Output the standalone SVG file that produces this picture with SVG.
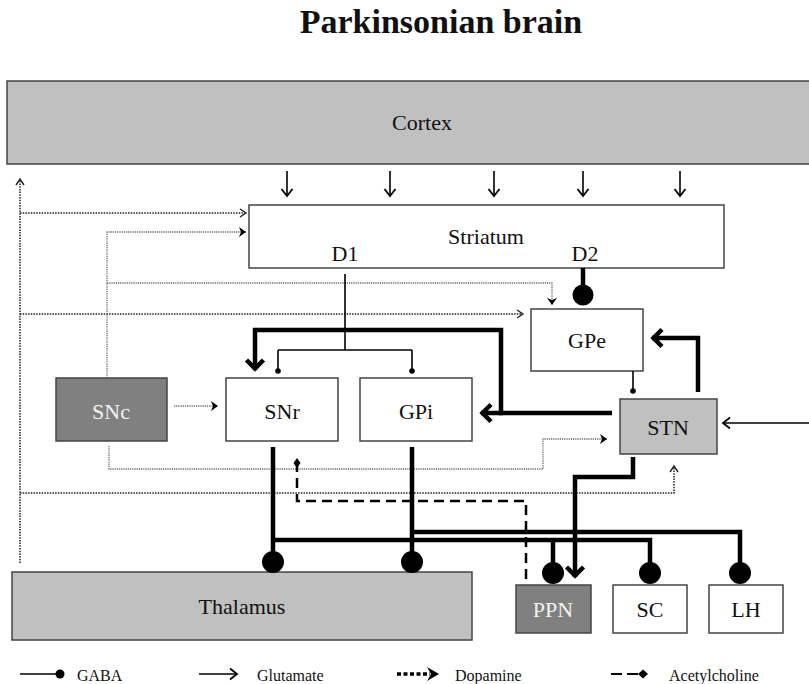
<svg xmlns="http://www.w3.org/2000/svg" width="809" height="684" viewBox="0 0 809 684">
  <style>
    .box { stroke: #444; stroke-width: 1.5; }
    .white { fill: #ffffff; }
    .light { fill: #c0c0c0; }
    .dark { fill: #808080; }
    .lbl { font-family: "Liberation Serif", "Times New Roman", serif; font-size: 22px; fill: #111; text-anchor: middle; }
    .lbl-inv { fill: #f2f2f2; }
    .title { font-family: "Liberation Serif", "Times New Roman", serif; font-size: 34px; font-weight: bold; fill: #111; text-anchor: middle; }
    .leg { font-family: "Liberation Serif", "Times New Roman", serif; font-size: 16px; fill: #111; }
    .thin { fill: none; stroke: #000; stroke-width: 1.6; }
    .thick { fill: none; stroke: #000; stroke-width: 4.5; stroke-linejoin: miter; }
    .thal { fill: none; stroke: #222; stroke-width: 1.5; stroke-dasharray: 1.5 1.2; }
    .da { fill: none; stroke: #666; stroke-width: 1.3; stroke-dasharray: 1.2 1; }
    .ach { fill: none; stroke: #000; stroke-width: 2.5; stroke-dasharray: 10 6; }
    .dot { fill: #000; }
  </style>
  <defs>
    <!-- open chevron, thin glutamate -->
    <marker id="glu" markerUnits="userSpaceOnUse" viewBox="-10 -8 12 16" refX="0" refY="0" markerWidth="12" markerHeight="16" orient="auto" overflow="visible">
      <path d="M-7,-5.5 L0,0 L-7,5.5" fill="none" stroke="#000" stroke-width="1.8"/>
    </marker>
    <!-- open chevron, thick glutamate -->
    <marker id="gluT" markerUnits="userSpaceOnUse" viewBox="-14 -11 16 22" refX="0" refY="0" markerWidth="16" markerHeight="22" orient="auto" overflow="visible">
      <path d="M-10,-8.5 L-1.5,0 L-10,8.5" fill="none" stroke="#000" stroke-width="4.5"/>
    </marker>
    <!-- open chevron on dotted thalamic lines -->
    <marker id="thalA" markerUnits="userSpaceOnUse" viewBox="-10 -7 12 14" refX="0" refY="0" markerWidth="12" markerHeight="14" orient="auto" overflow="visible">
      <path d="M-6,-4 L0,0 L-6,4" fill="none" stroke="#222" stroke-width="1.4"/>
    </marker>
    <!-- filled arrowhead for dopamine -->
    <marker id="daA" markerUnits="userSpaceOnUse" viewBox="-10 -7 12 14" refX="0" refY="0" markerWidth="12" markerHeight="14" orient="auto" overflow="visible">
      <path d="M-7,-5 L0,0 L-7,5 L-5,0 Z" fill="#000"/>
    </marker>
    <!-- diamond for acetylcholine -->
    <marker id="achA" markerUnits="userSpaceOnUse" viewBox="-12 -6 14 12" refX="0" refY="0" markerWidth="14" markerHeight="12" orient="auto" overflow="visible">
      <path d="M0,0 L-5,-3.5 L-10,0 L-5,3.5 Z" fill="#000"/>
    </marker>
  </defs>

  <text class="title" x="441" y="33">Parkinsonian brain</text>

  <!-- nuclei -->
  <g id="cortex">
    <rect class="box light" x="7" y="81" width="805" height="83"/>
    <text class="lbl" x="422" y="130">Cortex</text>
  </g>
  <g id="striatum">
    <rect class="box white" x="249" y="205" width="475" height="63"/>
    <text class="lbl" x="486" y="244">Striatum</text>
    <text class="lbl" x="345" y="261">D1</text>
    <text class="lbl" x="585" y="261">D2</text>
  </g>
  <g id="gpe">
    <rect class="box white" x="531" y="309" width="112" height="62"/>
    <text class="lbl" x="587" y="348">GPe</text>
  </g>
  <g id="snc">
    <rect class="box dark" x="56" y="378" width="111" height="63"/>
    <text class="lbl lbl-inv" x="111" y="419">SNc</text>
  </g>
  <g id="snr">
    <rect class="box white" x="226" y="378" width="112" height="63"/>
    <text class="lbl" x="282" y="419">SNr</text>
  </g>
  <g id="gpi">
    <rect class="box white" x="360" y="378" width="112" height="63"/>
    <text class="lbl" x="416" y="419">GPi</text>
  </g>
  <g id="stn">
    <rect class="box light" x="620" y="399" width="97" height="55"/>
    <text class="lbl" x="668" y="435">STN</text>
  </g>
  <g id="thalamus">
    <rect class="box light" x="12" y="572" width="460" height="68"/>
    <text class="lbl" x="242" y="614">Thalamus</text>
  </g>
  <g id="ppn">
    <rect class="box dark" x="516" y="585" width="75" height="48"/>
    <text class="lbl lbl-inv" x="553" y="617">PPN</text>
  </g>
  <g id="sc">
    <rect class="box white" x="613" y="585" width="74" height="48"/>
    <text class="lbl" x="650" y="617">SC</text>
  </g>
  <g id="lh">
    <rect class="box white" x="709" y="585" width="74" height="48"/>
    <text class="lbl" x="746" y="617">LH</text>
  </g>

  <g id="connectors">
    <!-- cortex to striatum -->
    <path class="thin" d="M287,171 V196" marker-end="url(#glu)"/>
    <path class="thin" d="M390,171 V196" marker-end="url(#glu)"/>
    <path class="thin" d="M494,171 V196" marker-end="url(#glu)"/>
    <path class="thin" d="M583,171 V196" marker-end="url(#glu)"/>
    <path class="thin" d="M680,171 V196" marker-end="url(#glu)"/>

    <!-- external drive into STN -->
    <path class="thin" d="M809,423 H723" marker-end="url(#glu)"/>

    <!-- thalamic feedback (dotted) -->
    <path class="thal" d="M20,563 V179" marker-end="url(#thalA)"/>
    <path class="thal" d="M20,213 H246" marker-end="url(#thalA)"/>
    <path class="thal" d="M20,314 H523" marker-end="url(#thalA)"/>
    <path class="thal" d="M20,493 H674 V466" marker-end="url(#thalA)"/>

    <!-- dopamine from SNc (dotted) -->
    <path class="da" d="M107,378 V232 H246" marker-end="url(#daA)"/>
    <path class="da" d="M107,283 H552 V305" marker-end="url(#daA)"/>
    <path class="da" d="M174,406 H218" marker-end="url(#daA)"/>
    <path class="da" d="M109,446 V469 H543 V439 H607" marker-end="url(#daA)"/>

    <!-- D1 pathway -->
    <path class="thin" d="M345,274 V350 M278,350 H412 M278,350 V370 M412,350 V370"/>
    <circle class="dot" cx="278" cy="371" r="2.8"/>
    <circle class="dot" cx="412" cy="371" r="2.8"/>

    <!-- D2 pathway -->
    <path class="thick" d="M583,268 V290"/>
    <circle class="dot" cx="583" cy="295" r="10.5"/>

    <!-- GPe to STN -->
    <path class="thin" d="M633,371 V390"/>
    <circle class="dot" cx="633" cy="391" r="2.8"/>

    <!-- STN outputs -->
    <path class="thick" d="M698,392 V338 H652" marker-end="url(#gluT)"/>
    <path class="thick" d="M612,413 H501 V330 H255 V370" marker-end="url(#gluT)"/>
    <path class="thick" d="M503,413 H481" marker-end="url(#gluT)"/>
    <path class="thick" d="M633,457 V477 H575 V577" marker-end="url(#gluT)"/>

    <!-- SNr / GPi outputs -->
    <path class="thick" d="M273,447 V556 M273,540 H650 V566 M553,540 V566"/>
    <path class="thick" d="M412,447 V556 M412,532 H740 V566"/>
    <circle class="dot" cx="273" cy="562" r="11"/>
    <circle class="dot" cx="412" cy="562" r="11"/>
    <circle class="dot" cx="553" cy="573" r="11"/>
    <circle class="dot" cx="650" cy="573" r="11"/>
    <circle class="dot" cx="740" cy="573" r="11"/>

    <!-- PPN cholinergic feedback -->
    <path class="ach" d="M526,579 V501 H297 V458" marker-end="url(#achA)"/>
  </g>

  <!-- legend -->
  <g id="legend">
    <path class="thin" d="M20,674 H58"/>
    <circle class="dot" cx="60" cy="674" r="4.5"/>
    <text class="leg" x="77" y="681">GABA</text>

    <path class="thin" d="M199,674 H237" marker-end="url(#glu)"/>
    <text class="leg" x="257" y="681">Glutamate</text>

    <path fill="none" stroke="#000" stroke-width="3.5" stroke-dasharray="4 2.5" d="M397,674 H430"/>
    <path d="M427,667 L439,674 L427,681 L431,674 Z" fill="#000"/>
    <text class="leg" x="455" y="681">Dopamine</text>

    <path fill="none" stroke="#000" stroke-width="2.2" d="M611,674 H622 M627,674 H638"/>
    <path d="M638,674 L643,669.5 L648,674 L643,678.5 Z" fill="#000"/>
    <text class="leg" x="669" y="681">Acetylcholine</text>
  </g>
</svg>
